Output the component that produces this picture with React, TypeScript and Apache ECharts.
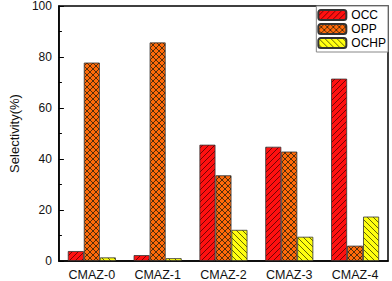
import React, { useEffect, useRef } from "react";
import * as echarts from "echarts";

const categories = ["CMAZ-0", "CMAZ-1", "CMAZ-2", "CMAZ-3", "CMAZ-4"];
const occ = [3.9, 2.3, 45.6, 44.8, 71.5];
const opp = [77.8, 85.7, 33.6, 42.9, 6.0];
const ochp = [1.4, 1.1, 12.2, 9.5, 17.4];
const yTicks = { min: 0, max: 100, interval: 20 };

function makeTile(bg: string, line: string, slash: boolean, back: boolean, s = 6) {
  const c = document.createElement("canvas");
  c.width = s;
  c.height = s;
  const g = c.getContext("2d")!;
  g.fillStyle = bg;
  g.fillRect(0, 0, s, s);
  g.strokeStyle = line;
  g.lineWidth = 1;
  if (slash) {
    for (const k of [0, s, 2 * s]) {
      g.beginPath();
      g.moveTo(k + 1, -1);
      g.lineTo(k - s - 1, s + 1);
      g.stroke();
    }
  }
  if (back) {
    for (const k of [-s, 0, s]) {
      g.beginPath();
      g.moveTo(k - 1, -1);
      g.lineTo(k + s + 1, s + 1);
      g.stroke();
    }
  }
  return { image: c, repeat: "repeat" };
}

export default function App() {
  const ref = useRef<HTMLDivElement>(null);
  useEffect(() => {
    const chart = echarts.init(ref.current!, null, { renderer: "svg" });
    const font = "Liberation Sans, Arial, sans-serif";
    const border = { borderColor: "#333", borderWidth: 0.8 };
    const occStyle = { color: makeTile("#ff1010", "rgba(70,0,0,0.75)", true, false), ...border };
    const oppStyle = { color: makeTile("#ff6a0a", "rgba(40,30,10,0.8)", true, true), ...border };
    const ochpStyle = { color: makeTile("#ffff10", "rgba(50,50,0,0.75)", false, true), ...border };
    chart.setOption({
      animation: false,
      textStyle: { fontFamily: font },
      grid: { left: 42, right: 4, top: 6, bottom: 20, show: true, borderColor: "#000", borderWidth: 1.5 },
      legend: {
        orient: "vertical",
        right: 4,
        top: 6,
        itemWidth: 28,
        itemHeight: 10,
        itemGap: 2,
        padding: [3, 2, 3, 1],
        borderColor: "#888",
        borderWidth: 1,
        backgroundColor: "#fff",
        textStyle: { fontSize: 12, color: "#000", fontFamily: font },
        data: ["OCC", "OPP", "OCHP"],
      },
      xAxis: {
        type: "category",
        data: categories,
        axisLine: { lineStyle: { color: "#000", width: 1.5 } },
        axisTick: { show: false },
        axisLabel: { fontSize: 12.5, color: "#111", margin: 7 },
      },
      yAxis: {
        type: "value",
        min: yTicks.min,
        max: yTicks.max,
        interval: yTicks.interval,
        name: "Selectivity(%)",
        nameLocation: "middle",
        nameGap: 30,
        nameTextStyle: { fontSize: 13, color: "#111" },
        axisLine: { show: true, lineStyle: { color: "#000", width: 1.5 } },
        axisTick: { show: true, inside: true, length: 5, lineStyle: { color: "#000" } },
        minorTick: { show: true, splitNumber: 2, length: 3, lineStyle: { color: "#000" } },
        splitLine: { show: false },
        axisLabel: { fontSize: 12, color: "#111", margin: 7 },
      },
      series: [
        { name: "OCC", type: "bar", data: occ, barWidth: 16, barGap: "0%", itemStyle: occStyle },
        { name: "OPP", type: "bar", data: opp, barWidth: 16, barGap: "0%", itemStyle: oppStyle },
        { name: "OCHP", type: "bar", data: ochp, barWidth: 16, barGap: "0%", itemStyle: ochpStyle },
      ],
    });
    return () => chart.dispose();
  }, []);
  return <div ref={ref} style={{ width: 392, height: 281, position: "absolute", left: 0, top: 0 }} />;
}
